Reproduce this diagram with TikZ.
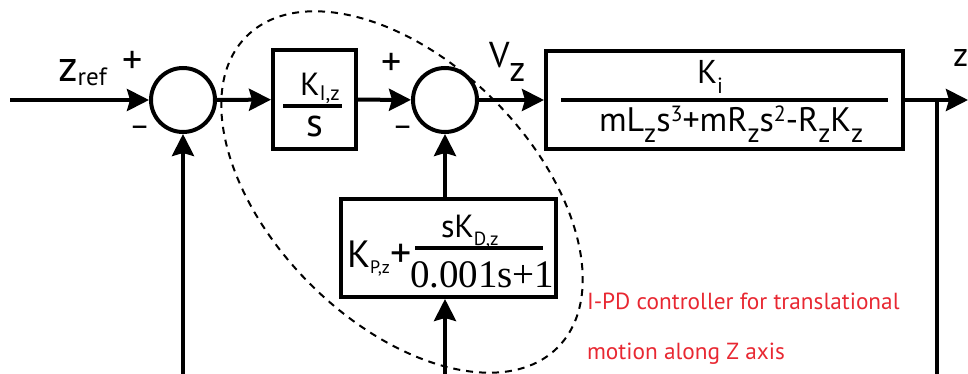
\documentclass[tikz,border=0pt]{standalone}
\usepackage{fontspec}
\setmainfont{PT Sans}
\newfontfamily\numserif{Liberation Serif}
\usetikzlibrary{arrows.meta}
\definecolor{lblred}{RGB}{232,40,50}
\newcommand\fs[1]{\fontsize{#1}{#1}\selectfont}
\newcommand\sbx[3]{\raisebox{-#2pt}{\fs{#1}#3}}
\newcommand\spx[3]{\raisebox{#2pt}{\fs{#1}#3}}
\begin{document}
\begin{tikzpicture}[x=1pt,y=-1pt,line width=4pt,
  arr/.style={-{Stealth[length=22pt,width=22pt,inset=3pt]}},
  blk/.style={draw,rectangle,inner sep=0pt,line width=4pt},
  sumc/.style={draw,circle,minimum size=64pt,inner sep=0pt,line width=4pt},
  txt/.style={inner sep=0pt,anchor=base west},
  bar/.style={line width=3.5pt},
  ellip/.style={line width=2pt,dash pattern=on 7pt off 6pt},
  note/.style={inner sep=0pt,anchor=base west,text=lblred,font=\fs{23.3}}]
\useasboundingbox (0,0) rectangle (968,374);
\clip (0,0) rectangle (968,374);
% blocks
\node[sumc] (s1) at (183,100) {};
\node[sumc] (s2) at (445,100) {};
\node[blk,minimum width=83pt,minimum height=99pt] (b1) at (314.5,99.5) {};
\node[blk,minimum width=357pt,minimum height=98pt] (b3) at (724.5,100) {};
\node[blk,minimum width=215pt,minimum height=98pt] (b2) at (448.5,248) {};
% coordinates
\coordinate (in) at (10,100);
\coordinate (out) at (968,100);
\coordinate (br) at (937,100);
\coordinate (brend) at (937,380);
\coordinate (fb) at (183,380);
\coordinate (pdin) at (445,380);
% connectors
\draw[arr] (in) -- (s1);
\draw[arr] (s1) -- (b1);
\draw[arr] (b1) -- (s2);
\draw[arr] (s2) -- (b3);
\draw[arr] (b3) -- (out);
\draw (br) -- (brend);
\draw[arr] (fb) -- (s1);
\draw[arr] (s2 |- b2.north) -- (s2);
\draw[arr] (pdin) -- (s2 |- b2.south);
% fraction bars
\coordinate (b1l) at (283,106); \coordinate (b1r) at (342,106);
\draw[bar] (b1l) -- (b1r);
\coordinate (b3l) at (561,100); \coordinate (b3r) at (888,100);
\draw[bar] (b3l) -- (b3r);
\coordinate (b2l) at (415,248); \coordinate (b2r) at (543,248);
\draw[bar] (b2l) -- (b2r);
% labels
\node[txt] (zref) at (56,82) {\fs{44}z\sbx{25}{4}{ref}};
\node[txt] (p1) at (120,74) {\fs{40}+};
\node[txt] (m1) at (127,137) {\fs{32}–};
\node[txt] (p2) at (379,76) {\fs{40}+};
\node[txt] (m2) at (390,137) {\fs{32}–};
\node[txt] (vz) at (487,68) {\fs{36}V\sbx{36}{14}{z}};
\node[txt] (zout) at (951,67) {\fs{34}z};
\node[txt] (kiz) at (298,96) {\fs{32}K\sbx{21}{5}{I,z}};
\node[txt] (s) at (304,137) {\fs{40}s};
\node[txt] (ki) at (695,84) {\fs{33}K\sbx{22}{10}{i}};
\node[txt] (den) at (597,132) {\fs{34}mL\sbx{27}{11}{z}s\spx{22}{10}{3}+mR\sbx{27}{11}{z}s\spx{22}{10}{2}-R\sbx{27}{11}{z}K\sbx{27}{11}{z}};
\node[txt] (kp) at (345,267) {\fs{38}K\sbx{18}{6}{P,z}\fs{42}+};
\node[txt] (skd) at (439,237) {\fs{32}sK\sbx{19}{8}{D,z}};
\node[txt] (dd) at (408,287) {\numserif\fs{39}0.001s+1};
\node[note] (n1) at (585,309) {I-PD controller for translational};
\node[note] (n2) at (585,359) {motion along Z axis};
% dashed ellipse
\draw[ellip,rotate around={-45:(402,192)}] (402,192) ellipse [x radius=220, y radius=130];
\end{tikzpicture}
\end{document}
